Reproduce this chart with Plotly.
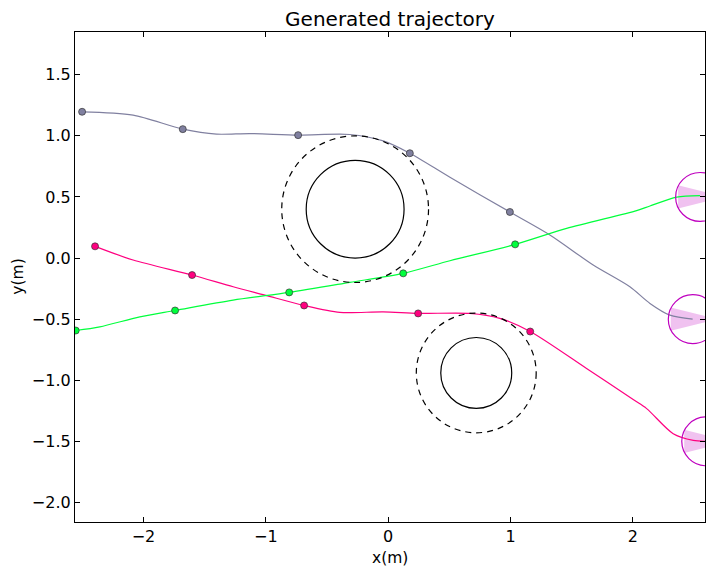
import plotly.graph_objects as go

# trajectory samples (x, y in metres)
gray_x = [-2.502, -2.085, -1.679, -1.403, -1.131, -0.736, -0.313, -0.041, 0.177, 0.505, 0.995, 1.322, 1.676, 1.976, 2.140, 2.303, 2.489]
gray_y = [1.197, 1.170, 1.055, 1.014, 1.019, 1.006, 1.011, 0.959, 0.858, 0.661, 0.377, 0.189, -0.057, -0.235, -0.371, -0.467, -0.500]
gray_mx = [-2.502, -1.679, -0.736, 0.177, 0.995]
gray_my = [1.197, 1.055, 1.006, 0.858, 0.377]

red_x = [-2.396, -2.085, -1.603, -1.267, -1.008, -0.687, -0.395, -0.041, 0.245, 0.668, 0.913, 1.161, 1.622, 2.003, 2.113, 2.330, 2.494, 2.590]
red_y = [0.096, -0.016, -0.139, -0.235, -0.303, -0.388, -0.445, -0.440, -0.453, -0.453, -0.494, -0.601, -0.904, -1.158, -1.232, -1.437, -1.492, -1.500]
red_mx = [-2.396, -1.603, -0.687, 0.245, 1.161]
red_my = [0.096, -0.139, -0.388, -0.453, -0.601]

green_x = [-2.554, -2.357, -2.030, -1.742, -1.267, -0.809, -0.313, 0.123, 0.505, 1.038, 1.459, 2.031, 2.140, 2.358, 2.549]
green_y = [-0.593, -0.563, -0.481, -0.429, -0.344, -0.281, -0.199, -0.125, -0.022, 0.112, 0.243, 0.388, 0.426, 0.498, 0.511]
green_mx = [-2.554, -1.742, -0.809, 0.123, 1.038]
green_my = [-0.593, -0.429, -0.281, -0.125, 0.112]

# obstacles: centre, radius, safety radius
obs_x = [-0.27, 0.72]
obs_y = [0.40, -0.94]
obs_r = [0.40, 0.29]
obs_safe = [0.60, 0.49]

# goals at the right edge
goal_x = [2.55, 2.49, 2.60]
goal_y = [0.50, -0.50, -1.50]
goal_r = 0.2

fig = go.Figure()

# heading wedges of the goals
for gx, gy in zip(goal_x, goal_y):
    fig.add_trace(go.Scatter(
        x=[gx - 0.18, gx + goal_r, gx - 0.18, gx - 0.18],
        y=[gy + 0.095, gy, gy - 0.095, gy + 0.095],
        mode="lines", fill="toself", fillcolor="rgba(191,0,191,0.24)",
        line=dict(width=0), hoverinfo="skip"))

for tx, ty, mx, my, col in [(gray_x, gray_y, gray_mx, gray_my, "#8080a0"),
                            (red_x, red_y, red_mx, red_my, "#ff0080"),
                            (green_x, green_y, green_mx, green_my, "#00ff3c")]:
    fig.add_trace(go.Scatter(x=tx, y=ty, mode="lines",
                             line=dict(color=col, width=1.2, shape="spline", smoothing=0.8)))
    fig.add_trace(go.Scatter(x=mx, y=my, mode="markers",
                             marker=dict(color=col, size=7, line=dict(color="#333333", width=0.7))))

for cx, cy, r, rs in zip(obs_x, obs_y, obs_r, obs_safe):
    fig.add_shape(type="circle", xref="x", yref="y", x0=cx - r, x1=cx + r, y0=cy - r, y1=cy + r,
                  line=dict(color="black", width=1.2))
    fig.add_shape(type="circle", xref="x", yref="y", x0=cx - rs, x1=cx + rs, y0=cy - rs, y1=cy + rs,
                  line=dict(color="black", width=1.2, dash="6px,5px"))

for gx, gy in zip(goal_x, goal_y):
    fig.add_shape(type="circle", xref="x", yref="y", x0=gx - goal_r, x1=gx + goal_r,
                  y0=gy - goal_r, y1=gy + goal_r, line=dict(color="#bf00bf", width=1.2))

axis_style = dict(showgrid=False, zeroline=False, showline=True, linecolor="black", linewidth=1.2,
                  mirror="ticks", ticks="inside", ticklen=5, tickcolor="black",
                  tickfont=dict(size=16, color="black"))

fig.update_xaxes(range=[-2.56, 2.59], tickvals=[-2, -1, 0, 1, 2], **axis_style)
fig.update_yaxes(range=[-2.16, 1.85], tickvals=[-2.0, -1.5, -1.0, -0.5, 0.0, 0.5, 1.0, 1.5],
                 tickformat=".1f", **axis_style)

# page body has an 8px margin, so the figure is 8px smaller than the window
fig.update_layout(
    width=706, height=566,
    margin=dict(l=67, r=9, t=24, b=52),
    showlegend=False,
    plot_bgcolor="white", paper_bgcolor="white",
    font=dict(family="DejaVu Sans", color="black"),
    title=dict(text="Generated trajectory", xref="paper", x=0.5, xanchor="center",
               y=0.98, yanchor="middle", font=dict(size=20)),
    annotations=[
        dict(text="x(m)", xref="paper", yref="paper", x=0.5, y=-0.073, showarrow=False,
             xanchor="center", yanchor="middle", font=dict(size=15.5)),
        dict(text="y(m)", xref="paper", yref="paper", x=-0.091, y=0.5, showarrow=False,
             textangle=-90, xanchor="center", yanchor="middle", font=dict(size=15.5)),
    ],
)

fig.write_html("out.html")
